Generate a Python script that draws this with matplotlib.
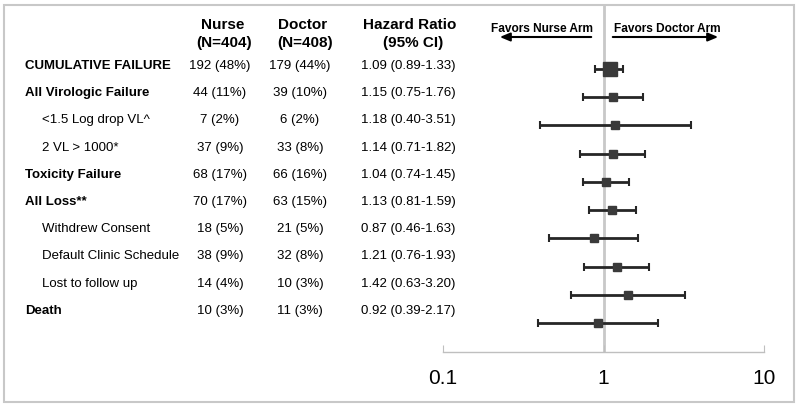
import matplotlib.pyplot as plt
from matplotlib.patches import Rectangle
from matplotlib.ticker import NullLocator, FixedLocator, FixedFormatter

plt.rcParams['font.family'] = ['Liberation Sans', 'DejaVu Sans']

# Data
outcomes = ["CUMULATIVE FAILURE", "All Virologic Failure", "<1.5 Log drop VL^",
            "2 VL > 1000*", "Toxicity Failure", "All Loss**", "Withdrew Consent",
            "Default Clinic Schedule", "Lost to follow up", "Death"]
nurse_events = [192, 44, 7, 37, 68, 70, 18, 38, 14, 10]
nurse_pct = [48, 11, 2, 9, 17, 17, 5, 9, 4, 3]
doctor_events = [179, 39, 6, 33, 66, 63, 21, 32, 10, 11]
doctor_pct = [44, 10, 2, 8, 16, 15, 5, 8, 3, 3]
hazard_ratio = [1.09, 1.15, 1.18, 1.14, 1.04, 1.13, 0.87, 1.21, 1.42, 0.92]
ci_low = [0.89, 0.75, 0.40, 0.71, 0.74, 0.81, 0.46, 0.76, 0.63, 0.39]
ci_high = [1.33, 1.76, 3.51, 1.82, 1.45, 1.59, 1.63, 1.93, 3.20, 2.17]
x_ticks = [0.1, 1, 10]
x_tick_labels = ["0.1", "1", "10"]

# Styling: which rows are sub-items (indented, regular weight)
sub_rows = [2, 3, 6, 7, 8]

W, H = 800, 408
fig = plt.figure(figsize=(W / 100, H / 100), dpi=100)

# background axes in pixel units for the table and frame
bg = fig.add_axes([0, 0, 1, 1])
bg.set_xlim(0, W)
bg.set_ylim(H, 0)
bg.axis('off')
bg.add_patch(Rectangle((4, 5), 790, 397, fill=False, ec='#c8c8c8', lw=1.5))

hdr = dict(fontsize=11, fontweight='bold', ha='center', va='center', color='black')
bg.text(223, 25, "Nurse", **hdr)
bg.text(224, 43, "(N=404)", **hdr)
bg.text(303, 25, "Doctor", **hdr)
bg.text(305, 43, "(N=408)", **hdr)
bg.text(410, 25, "Hazard Ratio", **hdr)
bg.text(413, 43, "(95% CI)", **hdr)

fs = 9.5
for i, name in enumerate(outcomes):
    y = 66 + 27.2 * i
    if i in sub_rows:
        bg.text(42, y, name, fontsize=fs, ha='left', va='center')
    else:
        bg.text(25, y, name, fontsize=fs, fontweight='bold', ha='left', va='center')
    bg.text(220, y, f"{nurse_events[i]} ({nurse_pct[i]}%)", fontsize=fs, ha='center', va='center')
    bg.text(300, y, f"{doctor_events[i]} ({doctor_pct[i]}%)", fontsize=fs, ha='center', va='center')
    bg.text(361, y, f"{hazard_ratio[i]:.2f} ({ci_low[i]:.2f}-{ci_high[i]:.2f})",
            fontsize=fs, ha='left', va='center')

# favors labels and arrows
bg.text(542, 29, "Favors Nurse Arm", fontsize=8.6, fontweight='bold', ha='center', va='center')
bg.text(667, 29, "Favors Doctor Arm", fontsize=8.6, fontweight='bold', ha='center', va='center')
arrow = dict(arrowstyle='-|>,head_length=0.6,head_width=0.25', color='black', lw=1.5)
bg.annotate("", xy=(497, 37), xytext=(594, 37), arrowprops=arrow)
bg.annotate("", xy=(721, 37), xytext=(610, 37), arrowprops=arrow)

# forest plot axes: x from 443 to 764 px, y from 5 to 352 px
ax = fig.add_axes([443 / W, 1 - 352 / H, (764 - 443) / W, (352 - 5) / H])
ax.patch.set_alpha(0)
ax.set_xscale('log')
ax.set_xlim(0.1, 10)
ax.set_ylim(10.03, -2.27)

ax.axvline(1, color='#c8c8c8', lw=2, zorder=1)

rows = list(range(len(outcomes)))
xerr = [[h - l for h, l in zip(hazard_ratio, ci_low)],
        [u - h for h, u in zip(hazard_ratio, ci_high)]]
ax.errorbar(hazard_ratio, rows, xerr=xerr, fmt='none', ecolor='#262626',
            elinewidth=2, capsize=3, capthick=1.5, zorder=2)
sizes = [9.5] + [5.5] * (len(rows) - 1)
for x, y, s in zip(hazard_ratio, rows, sizes):
    ax.plot(x, y, 's', ms=s, color='#3a3a3a', mec='#3a3a3a', zorder=3)

for side in ['left', 'right', 'top']:
    ax.spines[side].set_visible(False)
ax.spines['bottom'].set_color('#bfbfbf')
ax.spines['bottom'].set_linewidth(1)
ax.yaxis.set_major_locator(NullLocator())
ax.xaxis.set_major_locator(FixedLocator(x_ticks))
ax.xaxis.set_major_formatter(FixedFormatter(x_tick_labels))
ax.xaxis.set_minor_locator(NullLocator())
ax.tick_params(axis='x', direction='in', length=5, color='#bfbfbf', labelsize=15, pad=12)

fig.savefig("out.png", dpi=100)
